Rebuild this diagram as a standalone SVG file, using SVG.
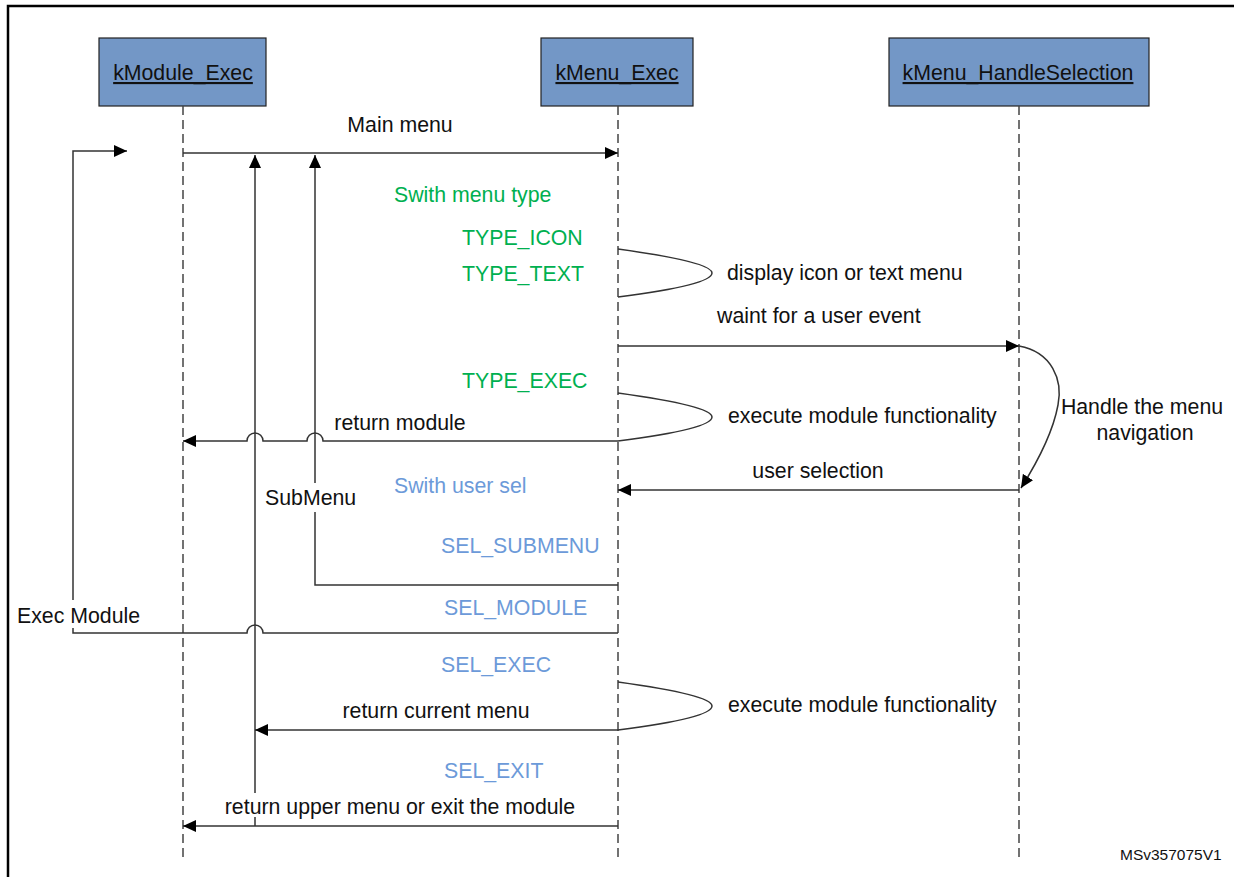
<svg xmlns="http://www.w3.org/2000/svg" width="1234" height="877" viewBox="0 0 1234 877">
<style>
text{font-family:"Liberation Sans",Arial,sans-serif;font-size:21.3px;fill:#111}
.box{fill:#7397c6;stroke:#222;stroke-width:1.2}
.lbl{text-decoration:underline;text-anchor:middle}
.life{stroke:#444;stroke-width:1.5;stroke-dasharray:9,5;fill:none}
.ln{stroke:#333;stroke-width:1.5;fill:none}
.g{fill:#00b050}
.b{fill:#6c9ad9}
.mid{text-anchor:middle}
</style>
<defs>
<marker id="ah" markerUnits="userSpaceOnUse" markerWidth="14" markerHeight="14" viewBox="0 0 14 14" refX="13" refY="7" orient="auto">
<path d="M0,1 L13,7 L0,13 Z" fill="#000"/>
</marker>
</defs>
<rect width="1234" height="877" fill="#fff"/>
<path d="M8,877 V6 H1234" stroke="#000" stroke-width="2.5" fill="none"/>

<g id="kModule_Exec">
<rect class="box" x="99" y="38" width="167" height="68"/>
<text class="lbl" x="183" y="80">kModule_Exec</text>
<line class="life" x1="183" y1="106" x2="183" y2="862"/>
</g>
<g id="kMenu_Exec">
<rect class="box" x="541" y="38" width="152" height="68"/>
<text class="lbl" x="617" y="80">kMenu_Exec</text>
<line class="life" x1="618" y1="106" x2="618" y2="862"/>
</g>
<g id="kMenu_HandleSelection">
<rect class="box" x="889" y="38" width="260" height="68"/>
<text class="lbl" x="1018" y="80">kMenu_HandleSelection</text>
<line class="life" x1="1019" y1="106" x2="1019" y2="862"/>
</g>

<g id="connectors">
<path class="ln" d="M183,153 H618" marker-end="url(#ah)"/>
<path class="ln" d="M618,633 H263 A8,8 0 0 0 247,633 H73 V628 M73,600 V151 H127" marker-end="url(#ah)"/>
<path class="ln" d="M255,826 V817 M255,793 V155" marker-end="url(#ah)"/>
<path class="ln" d="M618,585 H315 V512 M315,483 V155" marker-end="url(#ah)"/>
<path class="ln" d="M618,249 Q712,262 712,273 Q712,285 618,297"/>
<path class="ln" d="M618,393 Q712,406 712,417 Q712,429 618,441"/>
<path class="ln" d="M618,682 Q712,695 712,706 Q712,718 618,730"/>
<path class="ln" d="M618,346 H1019" marker-end="url(#ah)"/>
<path class="ln" d="M1019,346 C1052,352 1063,380 1058,405 C1053,432 1040,458 1021,488" marker-end="url(#ah)"/>
<path class="ln" d="M1019,490 H618" marker-end="url(#ah)"/>
<path class="ln" d="M618,441 H323 A8,8 0 0 0 307,441 H263 A8,8 0 0 0 247,441 H183" marker-end="url(#ah)"/>
<path class="ln" d="M618,730 H255" marker-end="url(#ah)"/>
<path class="ln" d="M618,826 H183" marker-end="url(#ah)"/>
</g>

<g id="labels">
<text class="mid" x="400" y="132">Main menu</text>
<text class="g" x="394" y="202">Swith menu type</text>
<text class="g" x="462" y="245">TYPE_ICON</text>
<text class="g" x="462" y="281">TYPE_TEXT</text>
<text x="727" y="280">display icon or text menu</text>
<text x="717" y="323">waint for a user event</text>
<text class="g" x="462" y="388">TYPE_EXEC</text>
<text x="728" y="423">execute module functionality</text>
<text class="mid" x="400" y="430">return module</text>
<text class="mid" x="1142" y="414">Handle the menu</text>
<text class="mid" x="1145" y="440">navigation</text>
<text class="mid" x="818" y="478">user selection</text>
<text class="b" x="394" y="493">Swith user sel</text>
<text x="265" y="505">SubMenu</text>
<text class="b" x="441" y="553">SEL_SUBMENU</text>
<text class="b" x="444" y="615">SEL_MODULE</text>
<text x="17" y="623">Exec Module</text>
<text class="b" x="441" y="672">SEL_EXEC</text>
<text x="728" y="712">execute module functionality</text>
<text class="mid" x="436" y="718">return current menu</text>
<text class="b" x="444" y="778">SEL_EXIT</text>
<text class="mid" x="400" y="814">return upper menu or exit the module</text>
<text x="1120" y="860" style="font-size:15.5px">MSv357075V1</text>
</g>
</svg>
